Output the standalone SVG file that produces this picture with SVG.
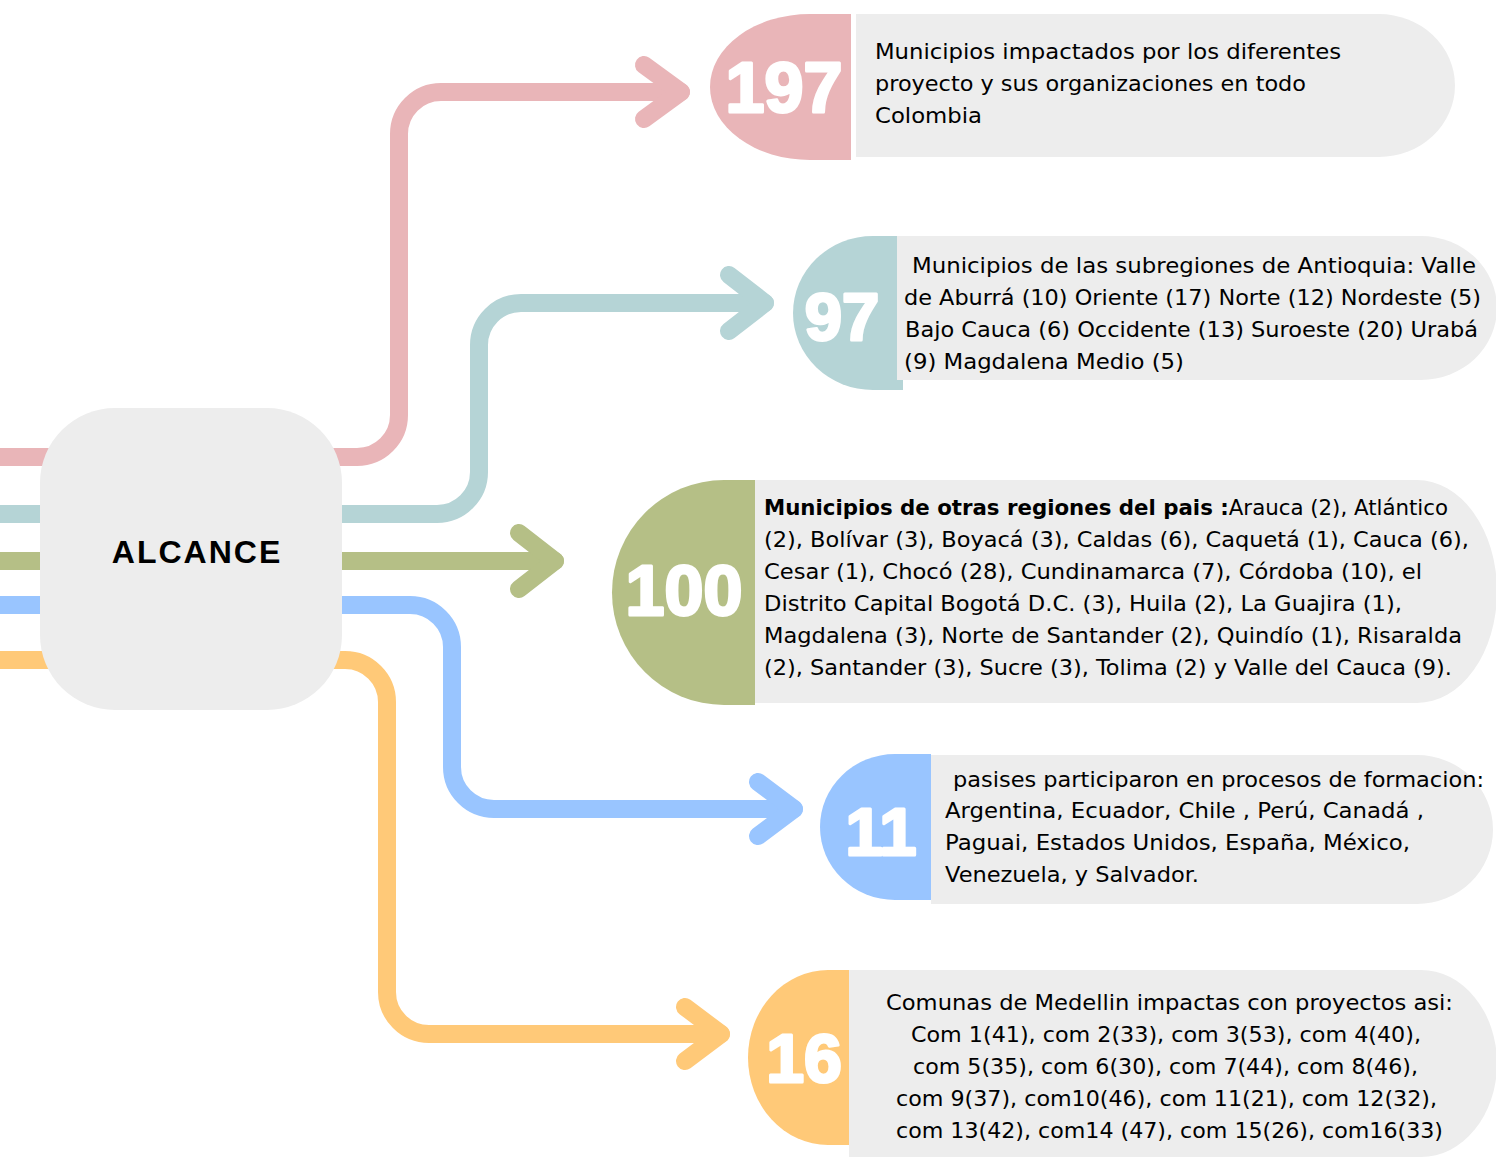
<svg xmlns="http://www.w3.org/2000/svg" width="1496" height="1157" viewBox="0 0 1496 1157">
<style>
.ln{fill:none;stroke-width:18;stroke-linecap:round;stroke-linejoin:round}
.pk{stroke:#E9B5B8}.tl{stroke:#B5D4D6}.gr{stroke:#B5BF86}.bl{stroke:#99C5FF}.or{stroke:#FFC978}
.box{fill:#EDEDED}
.num{font-family:"Liberation Sans",Arial,sans-serif;font-weight:bold;fill:#fff;stroke:#fff;stroke-width:3;stroke-linejoin:round;text-anchor:middle}
.tx{font-family:"DejaVu Sans","Liberation Sans",sans-serif;font-size:22px;fill:#000}
.hd{font-family:"Liberation Sans",Arial,sans-serif;font-weight:bold;font-size:32px;letter-spacing:2px;fill:#000;text-anchor:middle}
</style>
<rect width="1496" height="1157" fill="#fff"/>
<g id="connectors">
<path class="ln pk" d="M0 457 H357 A42 42 0 0 0 399 415 V134 A42 42 0 0 1 441 92 H681" stroke-linecap="butt"/>
<polyline class="ln pk" points="644,65 681,92 644,119"/>
<path class="ln tl" d="M0 514 H437 A42 42 0 0 0 479 472 V345 A42 42 0 0 1 521 303 H765" stroke-linecap="butt"/>
<polyline class="ln tl" points="729,275 765,303 729,331"/>
<path class="ln gr" d="M0 561 H555" stroke-linecap="butt"/>
<polyline class="ln gr" points="519,533 555,561 519,589"/>
<path class="ln bl" d="M0 605 H410 A42 42 0 0 1 452 647 V767 A42 42 0 0 0 494 809 H794" stroke-linecap="butt"/>
<polyline class="ln bl" points="758,782 794,809 758,836"/>
<path class="ln or" d="M0 660 H345 A42 42 0 0 1 387 702 V992 A42 42 0 0 0 429 1034 H721" stroke-linecap="butt"/>
<polyline class="ln or" points="685,1007 721,1034 685,1061"/>
</g>
<g id="alcance">
<rect class="box" x="40" y="408" width="302" height="302" rx="75" ry="75"/>
<text class="hd" x="197" y="563">ALCANCE</text>
</g>
<g id="node-197">
<path class="box" d="M856 14 H1379 A76 71.5 0 0 1 1379 157 H856 Z"/>
<path fill="#E9B5B8" d="M851 14 V160 H810 A100 73 0 0 1 810 14 Z"/>
<text class="num" x="784" y="112" font-size="70">197</text>
<text class="tx" x="875" y="59" textLength="466" lengthAdjust="spacingAndGlyphs">Municipios impactados por los diferentes</text>
<text class="tx" x="875" y="91" textLength="431" lengthAdjust="spacingAndGlyphs">proyecto y sus organizaciones en todo</text>
<text class="tx" x="875" y="123" textLength="107" lengthAdjust="spacingAndGlyphs">Colombia</text>
</g>
<g id="node-97">
<path fill="#B5D4D6" d="M903 236 V390 H873 A80 77 0 0 1 873 236 Z"/>
<path class="box" d="M897 236 H1421 A76 72 0 0 1 1421 380 H897 Z"/>
<text class="num" x="842" y="340" font-size="67">97</text>
<text class="tx" x="912" y="273" textLength="564" lengthAdjust="spacingAndGlyphs">Municipios de las subregiones de Antioquia: Valle</text>
<text class="tx" x="904" y="305" textLength="577" lengthAdjust="spacingAndGlyphs">de Aburrá (10) Oriente (17) Norte (12) Nordeste (5)</text>
<text class="tx" x="905" y="337" textLength="573" lengthAdjust="spacingAndGlyphs">Bajo Cauca (6) Occidente (13) Suroeste (20) Urabá</text>
<text class="tx" x="904" y="369" textLength="280" lengthAdjust="spacingAndGlyphs">(9) Magdalena Medio (5)</text>
</g>
<g id="node-100">
<path class="box" d="M755 480 H1417 A80 111.5 0 0 1 1417 703 H755 Z"/>
<path fill="#B5BF86" d="M755 480 V705 H724 A112 112.5 0 0 1 724 480 Z"/>
<text class="num" x="684" y="615" font-size="70">100</text>
<text class="tx" x="764" y="515" textLength="684" lengthAdjust="spacingAndGlyphs"><tspan font-weight="bold">Municipios de otras regiones del pais :</tspan>Arauca (2), Atlántico</text>
<text class="tx" x="764" y="547" textLength="705" lengthAdjust="spacingAndGlyphs">(2), Bolívar (3), Boyacá (3), Caldas (6), Caquetá (1), Cauca (6),</text>
<text class="tx" x="764" y="579" textLength="658" lengthAdjust="spacingAndGlyphs">Cesar (1), Chocó (28), Cundinamarca (7), Córdoba (10), el</text>
<text class="tx" x="764" y="611" textLength="638" lengthAdjust="spacingAndGlyphs">Distrito Capital Bogotá D.C. (3), Huila (2), La Guajira (1),</text>
<text class="tx" x="764" y="643" textLength="698" lengthAdjust="spacingAndGlyphs">Magdalena (3), Norte de Santander (2), Quindío (1), Risaralda</text>
<text class="tx" x="764" y="675" textLength="688" lengthAdjust="spacingAndGlyphs">(2), Santander (3), Sucre (3), Tolima (2) y Valle del Cauca (9).</text>
</g>
<g id="node-11">
<path class="box" d="M931 755 H1417 A76 74.5 0 0 1 1417 904 H931 Z"/>
<path fill="#99C5FF" d="M931 754 V900 H895 A75 73 0 0 1 895 754 Z"/>
<text class="num" x="881" y="855" font-size="67">11</text>
<text class="tx" x="953" y="787" textLength="531" lengthAdjust="spacingAndGlyphs">pasises participaron en procesos de formacion:</text>
<text class="tx" x="945" y="818" textLength="479" lengthAdjust="spacingAndGlyphs">Argentina, Ecuador, Chile , Perú, Canadá ,</text>
<text class="tx" x="945" y="850" textLength="465" lengthAdjust="spacingAndGlyphs">Paguai, Estados Unidos, España, México,</text>
<text class="tx" x="945" y="882" textLength="254" lengthAdjust="spacingAndGlyphs">Venezuela, y Salvador.</text>
</g>
<g id="node-16">
<path class="box" d="M849 970 H1421 A76 93.5 0 0 1 1421 1157 H849 Z"/>
<path fill="#FFC978" d="M849 970 V1145 H828 A80 87.5 0 0 1 828 970 Z"/>
<text class="num" x="804" y="1082" font-size="68">16</text>
<text class="tx" x="886" y="1010" textLength="567" lengthAdjust="spacingAndGlyphs">Comunas de Medellin impactas con proyectos asi:</text>
<text class="tx" x="911" y="1042" textLength="510" lengthAdjust="spacingAndGlyphs">Com 1(41), com 2(33), com 3(53), com 4(40),</text>
<text class="tx" x="913" y="1074" textLength="505" lengthAdjust="spacingAndGlyphs">com 5(35), com 6(30), com 7(44), com 8(46),</text>
<text class="tx" x="896" y="1106" textLength="541" lengthAdjust="spacingAndGlyphs">com 9(37), com10(46), com 11(21), com 12(32),</text>
<text class="tx" x="896" y="1138" textLength="547" lengthAdjust="spacingAndGlyphs">com 13(42), com14 (47), com 15(26), com16(33)</text>
</g>
</svg>
